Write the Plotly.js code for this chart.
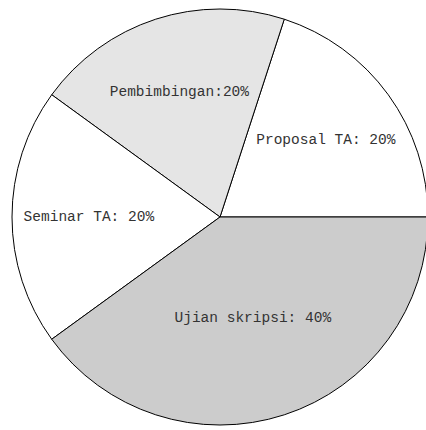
<!DOCTYPE html>
<html>
<head>
<meta charset="utf-8">
<script src="https://cdn.plot.ly/plotly-3.0.1.min.js"></script>
<style>
html,body{margin:0;padding:0;overflow:hidden;background:#fff;width:426px;height:430px;}
#chart{width:430px;height:430px;}
</style>
</head>
<body>
<div id="chart"></div>
<script>
var categories = ["Proposal TA", "Pembimbingan", "Seminar TA", "Ujian skripsi"];
var values = [20, 20, 20, 40];
var sliceLabels = ["Proposal TA: 20%", "Pembimbingan:20%", "Seminar TA: 20%", "Ujian skripsi: 40%"];
var sliceColors = ["#ffffff", "#e5e5e5", "#ffffff", "#cccccc"];

var W = 430, H = 430;
var trace = {
  type: "pie",
  labels: categories,
  values: values,
  text: sliceLabels,
  textinfo: "text",
  hoverinfo: "none",
  sort: false,
  direction: "counterclockwise",
  rotation: 18,
  textposition: "inside",
  insidetextorientation: "horizontal",
  marker: {colors: sliceColors, line: {color: "#000000", width: 1}},
  textfont: {family: "Courier New, Liberation Mono, monospace", size: 14.5, color: "#333333"},
  domain: {x: [12 / W, 428 / W], y: [5 / H, 421 / H]},
  showlegend: false
};
var layout = {
  width: W, height: H,
  margin: {l: 0, r: 0, t: 0, b: 0},
  paper_bgcolor: "#ffffff",
  showlegend: false,
  uniformtext: {mode: false}
};
Plotly.newPlot("chart", [trace], layout, {staticPlot: true, displayModeBar: false});
</script>
</body>
</html>
